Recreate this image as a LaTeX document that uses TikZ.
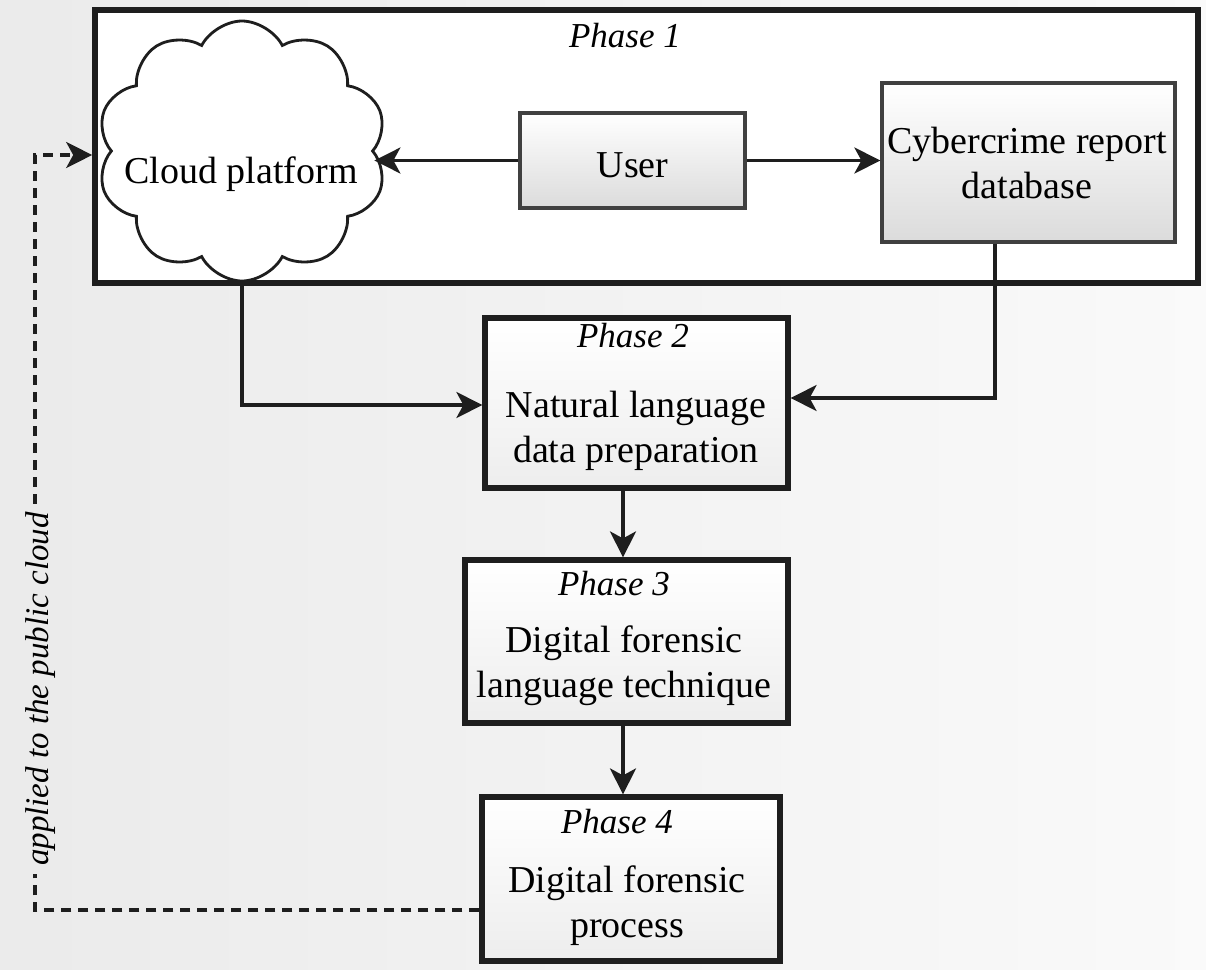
\documentclass[tikz,border=0pt]{standalone}
\usepackage{fontspec}
\setmainfont{Liberation Serif}
\usetikzlibrary{shapes.symbols,arrows.meta,calc}
\definecolor{ink}{HTML}{1E1E1E}
\begin{document}
\begin{tikzpicture}[x=0.5pt,y=-0.5pt,
  tip/.style={-{Stealth[length=13pt,width=13pt,inset=3.5pt]}},
  conn/.style={draw=ink, line width=1.6pt, tip},
  dashline/.style={draw=ink, line width=1.7pt, dash pattern=on 5pt off 3.5pt},
  outerbox/.style={draw=ink, line width=2.8pt, fill=white, inner sep=0},
  phasebox/.style={draw=ink, line width=2.6pt, top color=white, bottom color=black!7, inner sep=0},
  smallbox/.style={draw=ink!85, line width=1.6pt, top color=white, bottom color=black!14, inner sep=0},
  body/.style={font=\fontsize{19}{22.5}\selectfont, align=center, anchor=base, inner sep=0},
  phasetitle/.style={font=\fontsize{17.5}{21}\selectfont\itshape, anchor=base, inner sep=0},
  sidenote/.style={font=\fontsize{16.5}{20}\selectfont\itshape, anchor=base, rotate=90, inner xsep=4pt, inner ysep=0}
]
% page and background
\useasboundingbox (0,0) rectangle (1206,970);
\shade[left color=black!8, right color=black!2] (0,0) rectangle (1206,970);

% Phase 1 frame
\node[outerbox, minimum width=551.5pt, minimum height=136.5pt] (ph1) at (646.5,146.5) {};
\node[phasetitle] (ph1t) at (625,47) {Phase 1};

% cloud platform
\node[cloud, cloud puffs=10, cloud puff arc=125, aspect=1.1, draw=ink, line width=1.4pt,
      fill=white, minimum width=145pt, minimum height=130pt, inner sep=0] (cloud) at (242,151) {};
\node[body] (cloudtxt) at (241,183) {Cloud platform};

% user and report database
\node[smallbox, minimum width=112.5pt, minimum height=47.5pt] (user) at (632.5,160.5) {};
\node[body] (usertxt) at (632.5,177) {User};
\node[smallbox, minimum width=146.5pt, minimum height=79.5pt] (cyber) at (1028.5,162.5) {};
\node[body] (cybertxt) at (1027,198) {Cybercrime report\\database};

% phases 2-4 (body anchors sit on the last line's baseline)
\node[phasebox, minimum width=151.5pt, minimum height=85pt] (p2) at (636.5,403) {};
\node[phasetitle] (p2t) at (633,347) {Phase 2};
\node[body] (p2b) at (636,462) {Natural language\\data preparation};

\node[phasebox, minimum width=161.5pt, minimum height=81.5pt] (p3) at (626.5,641.5) {};
\node[phasetitle] (p3t) at (614,595) {Phase 3};
\node[body] (p3b) at (624,697) {Digital forensic\\language technique};

\node[phasebox, minimum width=149pt, minimum height=82pt] (p4) at (631,879) {};
\node[phasetitle] (p4t) at (617,833) {Phase 4};
\node[body] (p4b) at (627,937) {Digital forensic\\process};

% connectors
\coordinate (dropx) at (995,0);
\coordinate (axis) at (623,0);
\draw[conn] (user.west) -- (user.west -| cloud.east);
\draw[conn] (user.east) -- (user.east -| cyber.west);
\draw[conn] (cloud.south) |- ([yshift=-1pt]p2.west);
\draw[conn] (cyber.south -| dropx) |- ([yshift=2.5pt]p2.east);
\draw[conn] (p2.south -| axis) -- (p3.north -| axis);
\draw[conn] (p3.south -| axis) -- (p4.north -| axis);

% feedback loop to the cloud
\coordinate (c1) at (35,910);
\coordinate (c2) at (35,155);
\node[sidenote] (applied) at (48,689) {applied to the public cloud};
\draw[dashline] (p4.west |- c1) -- (c1) -- (c1 |- applied.west);
\draw[dashline, tip] (c1 |- applied.east) -- (c2) -- (c2 -| ph1.west);
\end{tikzpicture}
\end{document}
